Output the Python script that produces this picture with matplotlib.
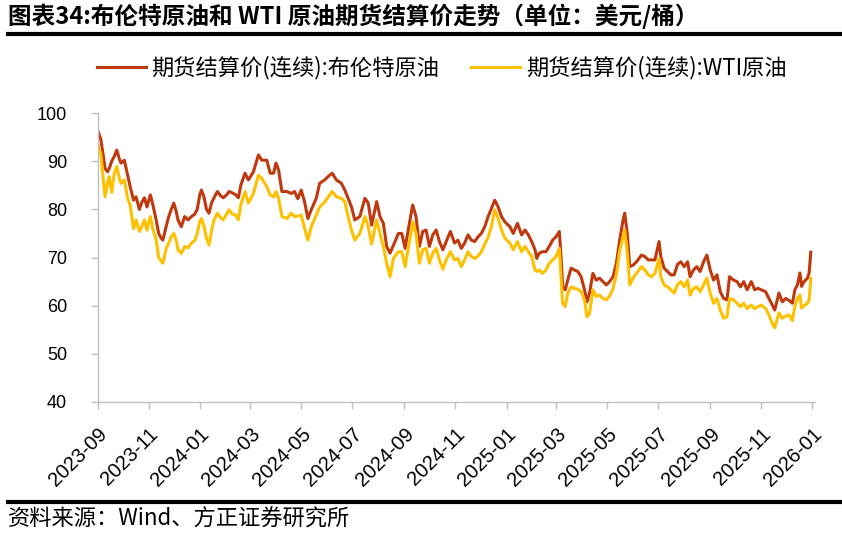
import matplotlib
matplotlib.use("Agg")
import matplotlib.pyplot as plt
import pandas as pd
from matplotlib.lines import Line2D

# ---------------- data ----------------
start_date = "2023-09-27"
day_offsets = [
    0, 4, 7, 9, 12, 14, 17, 20, 23, 26, 28, 32, 36, 39, 43, 46, 50, 53, 56, 59,
    63, 66, 70, 73, 76, 78, 82, 85, 88, 91, 94, 96, 100, 104, 108, 112, 116, 119, 122, 124,
    127, 130, 133, 136, 139, 143, 147, 150, 154, 157, 161, 165, 168, 171,
    176, 180, 186, 192, 196, 202, 206, 210, 213, 216, 220, 226, 231, 235, 239, 243,
    247, 251, 255, 261, 265, 271, 275, 280, 285, 291, 295, 299, 303, 307, 313, 319,
    323, 327, 333, 337, 341, 345, 349,
    353, 359, 363, 367, 370, 375, 376, 380, 384, 388, 392, 396, 400, 404, 408, 412,
    416, 421, 426, 430, 434, 438, 442, 446, 450, 454, 458, 462, 466, 470, 474, 478,
    482, 486, 492, 496, 501, 506, 510, 514, 518, 522,
    524, 527, 531, 535, 539, 543, 547, 551, 553, 555, 558, 561, 565, 569, 573, 577,
    581, 584, 587, 591, 595, 599, 603, 607, 611, 615, 619, 623, 627, 629, 632, 635,
    639, 643, 649, 653, 657, 661, 665, 670, 672, 676, 680, 684, 688, 692,
    696, 700, 704, 707, 711, 715, 719, 723, 727, 731, 735, 739, 743, 747, 751, 754,
    759, 763, 767, 771, 775, 780, 784, 788, 792, 797, 801, 805, 808, 813, 817, 821,
    825, 829, 832, 835, 838, 840, 843, 847, 849, 851,
]
brent = [
    96.5, 94.5, 91.0, 88.5, 87.8, 88.5, 90.0, 91.0, 92.3, 90.5, 89.6, 90.2, 87.0, 84.7, 81.9, 82.6, 80.0, 81.5, 82.4, 80.5,
    83.0, 81.0, 77.8, 75.0, 74.0, 73.6, 76.5, 78.5, 80.0, 81.3, 79.5, 77.8, 76.4, 78.5, 77.8, 78.5, 79.0, 80.0, 83.0, 84.0,
    82.6, 80.0, 79.2, 81.3, 82.4, 83.7, 82.8, 82.4, 83.0, 83.7, 83.4, 83.0, 82.4, 85.0,
    87.5, 86.1, 87.8, 91.3, 90.2, 90.2, 87.5, 87.5, 89.6, 88.2, 83.7, 83.7, 83.3, 83.7, 82.2, 84.0,
    81.6, 78.1, 79.9, 82.3, 85.4, 86.1, 86.8, 87.5, 86.1, 85.4, 84.0, 82.3, 80.5, 77.8, 78.5, 82.3,
    81.3, 76.7, 81.6, 78.5, 77.1, 72.3, 70.9,
    72.5, 75.0, 75.0, 71.9, 75.0, 79.9, 80.9, 78.5, 72.3, 75.4, 75.7, 72.3, 74.7, 75.7, 73.3, 71.6,
    73.3, 75.4, 73.0, 73.6, 71.9, 73.0, 74.7, 73.6, 73.3, 74.3, 75.0, 76.4, 78.5, 80.2, 81.9, 80.5,
    78.5, 77.4, 76.4, 75.0, 77.1, 74.7, 75.7, 74.7, 73.3, 71.6,
    69.8, 70.9, 71.2, 71.2, 72.3, 73.6, 74.3, 75.4, 70.2, 63.9, 63.3, 65.3, 67.8, 67.4, 67.1, 66.0,
    63.3, 60.8, 62.6, 66.7, 65.3, 65.7, 65.0, 64.3, 65.0, 66.0, 68.8, 73.6, 77.8, 79.2, 75.0, 68.1,
    68.4, 69.1, 70.5, 70.2, 69.5, 69.5, 69.5, 73.3, 70.2, 67.8, 67.1, 66.4, 66.4, 68.6,
    69.1, 68.1, 69.1, 66.0, 67.4, 68.1, 67.1, 69.1, 70.5, 67.4, 65.3, 66.4, 62.9, 61.5, 61.2, 66.0,
    65.3, 65.0, 63.9, 65.0, 63.3, 65.0, 63.3, 63.6, 63.3, 62.9, 61.5, 60.1, 59.1, 62.6, 60.8, 61.5,
    61.1, 60.5, 63.3, 64.3, 66.8, 64.0, 65.0, 65.7, 66.8, 71.1,
]
wti = [
    93.7, 91.5, 86.0, 82.6, 85.5, 86.8, 83.5, 87.5, 88.9, 86.5, 85.4, 86.1, 82.2, 80.9, 76.0, 77.8, 75.4, 76.5, 77.8, 75.7,
    78.5, 76.0, 73.6, 70.0, 69.2, 68.8, 71.9, 73.0, 74.3, 75.0, 73.5, 71.6, 70.9, 72.3, 72.0, 73.0, 73.5, 75.0, 77.5, 78.1,
    76.5, 74.0, 72.6, 75.5, 77.8, 79.2, 78.2, 77.8, 79.0, 79.9, 79.0, 78.8, 77.8, 81.0,
    83.7, 81.3, 83.3, 87.1, 86.4, 84.7, 83.0, 82.6, 83.7, 82.3, 78.5, 78.1, 79.2, 78.5, 78.6, 78.8,
    76.1, 73.6, 76.4, 78.8, 80.5, 81.5, 82.5, 83.7, 82.6, 82.3, 81.6, 78.5, 75.7, 73.6, 75.0, 78.5,
    76.4, 72.8, 77.8, 75.0, 72.3, 68.8, 66.0,
    69.8, 71.2, 71.2, 68.1, 71.2, 76.0, 77.4, 75.0, 68.8, 71.6, 71.9, 68.8, 70.9, 71.9, 69.5, 67.6,
    69.5, 71.2, 69.5, 69.8, 68.1, 69.5, 71.2, 70.2, 69.8, 70.3, 71.2, 72.8, 74.2, 76.5, 79.9, 78.1,
    75.7, 74.0, 73.0, 71.6, 73.3, 71.2, 72.3, 71.2, 70.2, 67.4,
    67.1, 67.4, 66.7, 67.4, 68.8, 69.5, 70.2, 71.9, 66.0, 60.5, 59.8, 62.6, 63.9, 63.6, 63.4, 62.9,
    61.2, 57.7, 58.4, 63.3, 61.9, 62.2, 61.5, 61.2, 62.0, 63.5, 66.5, 71.5, 74.3, 75.7, 71.0, 64.3,
    65.7, 66.7, 68.1, 67.4, 66.4, 66.0, 66.7, 69.8, 66.0, 64.3, 63.9, 63.3, 62.6, 64.4,
    65.0, 63.9, 65.3, 62.2, 63.6, 63.9, 62.9, 64.3, 65.7, 62.6, 60.5, 61.5, 59.1, 57.4, 57.7, 61.5,
    61.2, 60.5, 59.8, 60.5, 59.4, 60.1, 59.4, 59.8, 60.1, 59.4, 58.1, 56.3, 55.4, 58.5, 57.4, 57.8,
    58.1, 56.9, 59.8, 61.5, 62.2, 59.5, 60.0, 60.5, 61.2, 65.7,
]
tick_months = ["2023-09", "2023-11", "2024-01", "2024-03", "2024-05", "2024-07", "2024-09",
               "2024-11", "2025-01", "2025-03", "2025-05", "2025-07", "2025-09", "2025-11", "2026-01"]
y_ticks = [40, 50, 60, 70, 80, 90, 100]
series_names = ["期货结算价(连续):布伦特原油", "期货结算价(连续):WTI原油"]
title_text = "图表34:布伦特原油和 WTI 原油期货结算价走势（单位：美元/桶）"
source_text = "资料来源：Wind、方正证券研究所"

# ---------------- drawing ----------------
CJK = ["Noto Sans CJK SC", "DejaVu Sans"]
NUM = ["Liberation Sans", "DejaVu Sans"]
RED = "#C0390E"
GOLD = "#FFC000"
GRAY = "#BFBFBF"

dates = pd.Timestamp(start_date) + pd.to_timedelta(day_offsets, unit="D")
tick_dates = pd.to_datetime([m + "-27" for m in tick_months])

W, H = 842, 534
fig = plt.figure(figsize=(W / 100, H / 100), dpi=100)
ax = fig.add_axes([97.5 / W, 1 - 402 / H, (815 - 97.5) / W, (402 - 113) / H])

ax.plot(dates, brent, color=RED, lw=2.2, solid_joinstyle="round", label=series_names[0])
ax.plot(dates, wti, color=GOLD, lw=2.2, solid_joinstyle="round", label=series_names[1])

ax.set_ylim(40, 100)
ax.set_yticks(y_ticks)
ax.set_xlim(pd.Timestamp(start_date), pd.Timestamp("2026-01-30"))
ax.set_xticks(tick_dates)
ax.set_xticklabels(tick_months, rotation=45, ha="right", va="top", rotation_mode="anchor")

for s in ["top", "right"]:
    ax.spines[s].set_visible(False)
for s in ["left", "bottom"]:
    ax.spines[s].set_color(GRAY)
    ax.spines[s].set_linewidth(1.0)
ax.tick_params(axis="both", colors=GRAY, length=5, width=1.0, direction="out")
ax.tick_params(axis="y", pad=17, labelcolor="black", labelsize=13)
ax.tick_params(axis="x", pad=11, labelcolor="black", labelsize=14.5)
for lab in ax.get_xticklabels() + ax.get_yticklabels():
    lab.set_family(NUM)

# legend
fig.legend(loc="center", bbox_to_anchor=(441.5 / W, 1 - 68 / H), ncol=2, frameon=False,
           prop={"family": CJK, "size": 16}, handlelength=2.2, handletextpad=0.25,
           columnspacing=1.45)

# title and rules
fig.text(8 / W, 1 - 16 / H, title_text, ha="left", va="center", fontsize=17,
         family=CJK, fontweight="bold", color="black")
fig.add_artist(Line2D([8 / W, 1.0], [1 - 34 / H, 1 - 34 / H], color="black", lw=3.0,
                      transform=fig.transFigure))
fig.add_artist(Line2D([8 / W, 1.0], [1 - 501.5 / H, 1 - 501.5 / H], color="black", lw=3.0,
                      transform=fig.transFigure))
fig.text(8 / W, 1 - 519 / H, source_text, ha="left", va="center", fontsize=16,
         family=CJK, color="black", style="italic")

fig.savefig("out.png", dpi=100)
